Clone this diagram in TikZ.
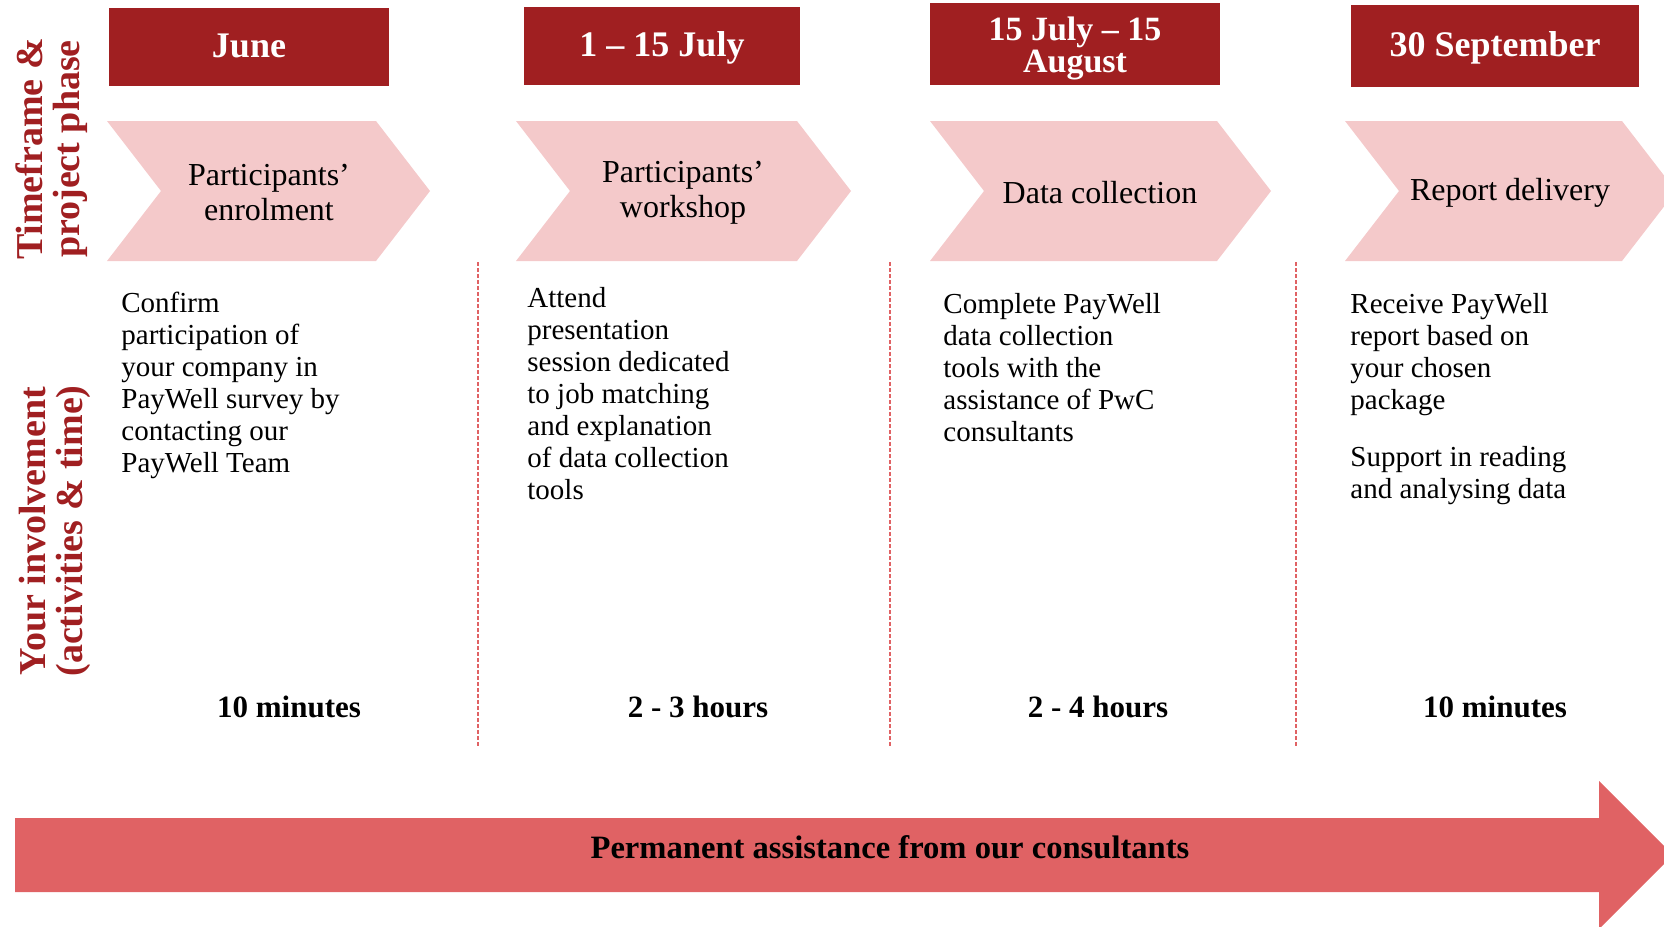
\documentclass[tikz,border=0pt]{standalone}
\usepackage{fontspec}
\setmainfont{Liberation Serif}
\usetikzlibrary{positioning}
\definecolor{pwcdark}{HTML}{A01F21}
\definecolor{pwcpink}{HTML}{F4C9CA}
\definecolor{pwcrose}{HTML}{E06264}
\tikzset{
    datebox/.style={fill=pwcdark, text=white, font=\fontsize{18}{16}\selectfont\bfseries, align=center, inner sep=0pt, text height=14pt, text depth=4pt},
    phase/.style={font=\fontsize{16}{17.5}\selectfont, align=center},
    task/.style={font=\fontsize{14.5}{16}\selectfont, align=left, anchor=north west, inner sep=0pt},
    effort/.style={font=\fontsize{15.5}{16}\selectfont\bfseries, anchor=base},
    rowlabel/.style={font=\fontsize{19}{18.5}\selectfont\bfseries, text=pwcdark, align=center, rotate=90},
    sepline/.style={pwcrose, line width=0.8pt, dash pattern=on 2pt off 1pt},
}

\begin{document}
\begin{tikzpicture}[x=0.5pt, y=-0.5pt]
        \useasboundingbox (0,0) rectangle (1664,926);
        \clip (0,0) rectangle (1664,926);
        % chevrons
        \foreach \l/\r in {107/376, 516/797, 930/1217, 1345/1622}
            \fill[pwcpink] (\l,121) -- (\r,121) -- (\r+54,191) -- (\r,261) -- (\l,261) -- (\l+54,191) -- cycle;
        \begin{scope}[]
            \node[datebox, minimum width=140pt, minimum height=39pt](june) at (249,47){June};
            \node[datebox, minimum width=138pt, minimum height=39pt](july) at (662,46){1 – 15 July};
            \node[datebox, minimum width=145pt, minimum height=41pt, text height=, text depth=, font=\fontsize{17}{16.2}\selectfont\bfseries](august) at (1075,44){\rule{0pt}{16.5pt}15 July – 15\\August};
            \node[datebox, minimum width=144pt, minimum height=41pt](september) at (1495,46){30 September};
            \node[phase](enrol) at (269,193){Participants'\\enrolment};
            \node[phase](workshop) at (683,193){Participants'\\workshop};
            \node[phase](collection) at (1100,193){Data collection};
            \node[phase](delivery) at (1510,193){Report delivery};
            \node[rowlabel](timeframe) at (52,149){Timeframe \&\\project phase};
            \node[rowlabel](involvement) at (55,531){Your involvement\\(activities \& time)};
            \node[task](confirm) at (121,292){Confirm\\participation of\\your company in\\PayWell survey by\\contacting our\\PayWell Team};
            \node[task](attend) at (527,287){Attend\\presentation\\session dedicated\\to job matching\\and explanation\\of data collection\\tools};
            \node[task](complete) at (943,293){Complete PayWell\\data collection\\tools with the\\assistance of PwC\\consultants};
            \node[task](receive) at (1350,293){Receive PayWell\\report based on\\your chosen\\package\\[12.5pt]Support in reading\\and analysing data};
            \node[effort](tenmin) at (289,717){10 minutes};
            \node[effort](threehours) at (698,717){2 - 3 hours};
            \node[effort](fourhours) at (1098,717){2 - 4 hours};
            \node[effort](tenminlast) at (1495,717){10 minutes};
        \end{scope}
        \foreach \x in {478, 890, 1296}
            \draw[sepline] (\x,262) -- (\x,747);
        % permanent assistance arrow
        \fill[pwcrose] (15,818) -- (1599,818) -- (1599,781) -- (1673,855) -- (1599,929) -- (1599,892) -- (15,892) -- cycle;
        \node[font=\fontsize{16.3}{18}\selectfont\bfseries, anchor=base](assist) at (890,858){Permanent assistance from our consultants};
    \end{tikzpicture}
\end{document}
